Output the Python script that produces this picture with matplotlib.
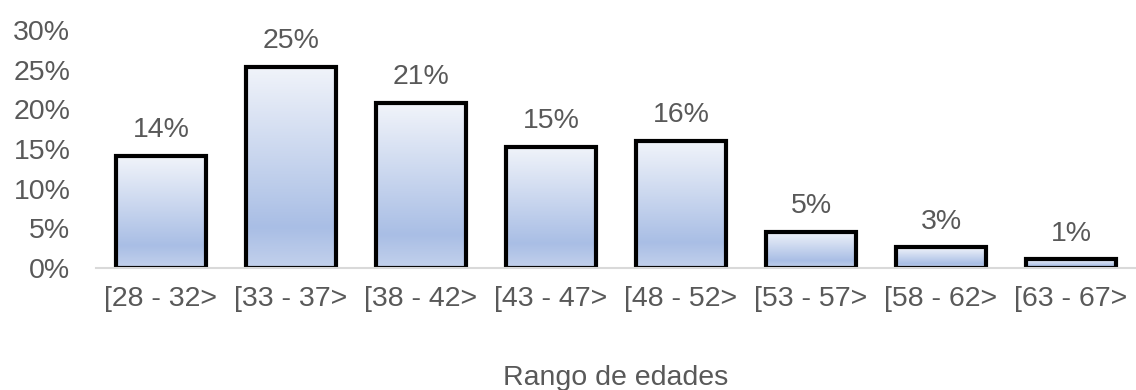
import numpy as np
import matplotlib.pyplot as plt
from matplotlib.colors import LinearSegmentedColormap
from matplotlib.ticker import PercentFormatter

# Age ranges and share of people in each
rangos = ['[28 - 32>', '[33 - 37>', '[38 - 42>', '[43 - 47>',
          '[48 - 52>', '[53 - 57>', '[58 - 62>', '[63 - 67>']
porcentajes = [0.141, 0.254, 0.208, 0.153, 0.160, 0.046, 0.026, 0.011]

plt.rcParams['font.family'] = ['Liberation Sans', 'DejaVu Sans']
gris = '#595959'
tam = 20.5

fig = plt.figure(figsize=(11.36, 3.9), dpi=100)
ax = fig.add_axes([0.0845, 0.3128, 0.9155, 0.6102])

x = np.arange(len(rangos))
barras = ax.bar(x, porcentajes, width=0.685, color='none',
                edgecolor='black', linewidth=3.0, zorder=3)

# vertical gradient fill inside each bar
cmap = LinearSegmentedColormap.from_list(
    'degradado', [(0.0, '#f1f4fa'), (0.8, '#a9bee5'), (1.0, '#c3d1ec')])
grad = np.linspace(0, 1, 256).reshape(-1, 1)
for b in barras:
    x0, y0 = b.get_x(), b.get_y()
    w, h = b.get_width(), b.get_height()
    im = ax.imshow(grad, cmap=cmap, aspect='auto', origin='upper',
                   extent=[x0, x0 + w, y0, y0 + h], zorder=2)
    im.set_clip_path(b)

for xi, v in zip(x, porcentajes):
    ax.annotate(f'{v:.0%}', (xi, v), xytext=(0, 13.5),
                textcoords='offset points', ha='center', va='baseline',
                fontsize=tam, color=gris)

ax.set_xlim(-0.5, len(rangos) - 0.5)
ax.set_ylim(0, 0.30)
ax.set_yticks(np.arange(0, 0.31, 0.05))
ax.yaxis.set_major_formatter(PercentFormatter(1.0, decimals=0))
ax.set_xticks(x)
ax.set_xticklabels(rangos)
ax.tick_params(axis='both', length=0, labelsize=tam, labelcolor=gris)
ax.tick_params(axis='y', pad=18.5)
ax.tick_params(axis='x', pad=13)

for lado in ['top', 'right', 'left']:
    ax.spines[lado].set_visible(False)
ax.spines['bottom'].set_color('#d9d9d9')
ax.spines['bottom'].set_linewidth(1.5)
ax.spines['bottom'].set_zorder(4)

fig.text(0.5423, 0.0128, 'Rango de edades', ha='center', va='baseline',
         fontsize=tam, color=gris)

fig.savefig('out.png', dpi=100)
